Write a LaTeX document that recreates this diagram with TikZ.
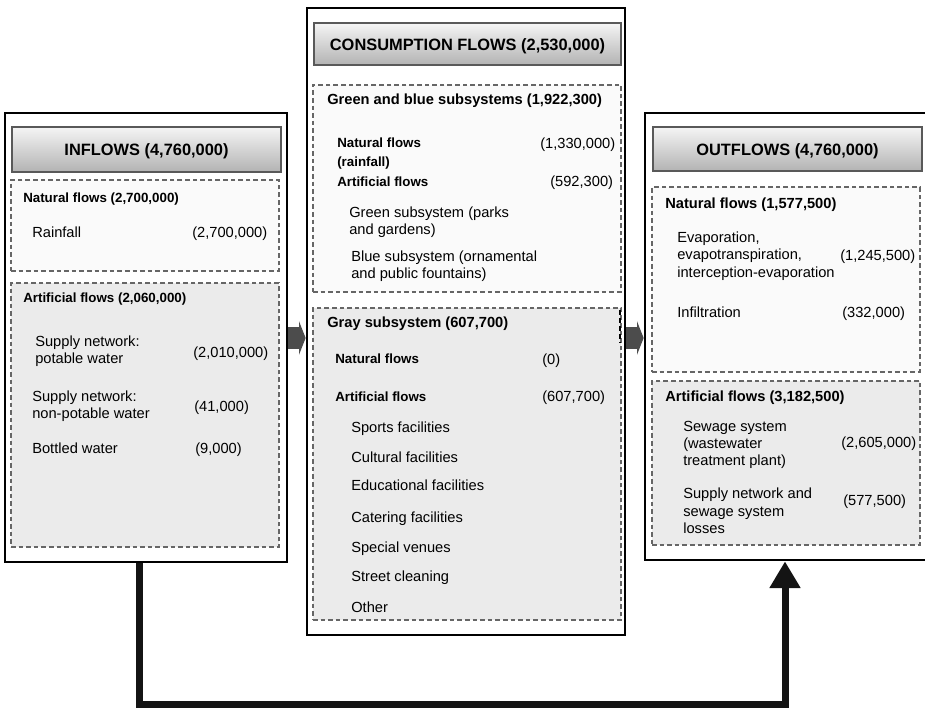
\documentclass[tikz,border=0pt]{standalone}
\usepackage{fontspec}
\setmainfont{Liberation Sans}
\usepackage{tikz}
\usetikzlibrary{arrows.meta, fit}
\tikzset{
    outerbox/.style={draw=black, line width=2pt, fill=white, inner sep=0pt},
    headbox/.style={draw=black!65, line width=1.2pt, top color=black!4, bottom color=black!30, inner sep=0pt},
    headtxt/.style={inner sep=0pt, text height=9pt, text depth=0pt, font=\fontsize{12.3}{14}\selectfont\bfseries},
    subbox/.style={draw=black!60, line width=1.1pt, dash pattern=on 3.5pt off 2.2pt, inner sep=0pt},
    natbox/.style={subbox, fill=black!2},
    artbox/.style={subbox, fill=black!8},
    txt/.style={anchor=west, inner sep=0pt, align=left, font=\fontsize{11}{13}\selectfont},
    boldtxt/.style={txt, font=\fontsize{11}{14.25}\selectfont\bfseries},
    entry/.style={txt, text height=8pt, text depth=1pt},
    sublbl/.style={entry, font=\fontsize{11}{13}\selectfont\bfseries},
    leftlbl/.style={entry, font=\fontsize{10}{12}\selectfont\bfseries},
    blockarrow/.style={line width=16pt, draw=black!70, -{Triangle[length=5pt, width=25pt]}},
    loopline/.style={line width=5.25pt, draw=black!92, -{Triangle[length=20pt, width=22pt]}}
}

\begin{document}
\begin{tikzpicture}[x=0.75pt, y=-0.75pt]
    \useasboundingbox (0,0) rectangle (925,711);
    \clip (0,0) rectangle (925,711);
    % the three blocks
    \node[outerbox, fit={(5,113) (287,562)}] (inbox) {};
    \node[outerbox, fit={(307,8) (625,635)}] (midbox) {};
    \node[outerbox, fit={(645,113) (935,560)}] (outbox) {};
    \node[natbox, fit={(11,180) (279,271)}] (innat) {};
    \node[artbox, fit={(11,283) (279,547)}] (inart) {};
    \node[natbox, fit={(313,85) (621,292)}] (midgb) {};
    \node[artbox, fit={(313,308) (621,620)}] (midgray) {};
    \node[natbox, fit={(652,187) (920,372)}] (outnat) {};
    \node[artbox, fit={(652,381) (920,545)}] (outart) {};
    \node[headbox, fit={(12,127) (281,172)}] (inhead) {};
    \node[headbox, fit={(314,23) (621,65)}] (midhead) {};
    \node[headbox, fit={(653,127) (922,171)}] (outhead) {};
    \node[headtxt] (intitle) at (inhead) {INFLOWS (4,760,000)};
    \node[headtxt] (midtitle) at (midhead) {CONSUMPTION FLOWS (2,530,000)};
    \node[headtxt] (outtitle) at (outhead) {OUTFLOWS (4,760,000)};
    \draw[black, line width=1.5pt, dash pattern=on 4pt off 2pt] (620,310) -- (620,343);

    % inflows
    \node[leftlbl] (innatlbl) at (23,198) {Natural flows (2,700,000)};
    \node[entry] (rain) at (32,233) {Rainfall};
    \node[entry] (rainval) at (192,233) {(2,700,000)};
    \node[leftlbl] (inartlbl) at (23,298) {Artificial flows (2,060,000)};
    \node[txt] (potable) at (35,351) {Supply network:\\potable water};
    \node[entry] (potableval) at (193,353) {(2,010,000)};
    \node[txt] (nonpot) at (32,406) {Supply network:\\non-potable water};
    \node[entry] (nonpotval) at (194,407) {(41,000)};
    \node[entry] (bottled) at (32,449) {Bottled water};
    \node[entry] (bottledval) at (195,449) {(9,000)};

    % consumption
    \node[sublbl] (gblbl) at (327,100) {Green and blue subsystems (1,922,300)};
    \node[boldtxt, font=\fontsize{10}{14.25}\selectfont\bfseries] (gbnat) at (337,153.5) {Natural flows\\(rainfall)};
    \node[entry] (gbnatval) at (540,144) {(1,330,000)};
    \node[leftlbl] (gbart) at (337,182) {Artificial flows};
    \node[entry] (gbartval) at (550,182) {(592,300)};
    \node[txt] (green) at (349,222) {Green subsystem (parks\\and gardens)};
    \node[txt] (blue) at (351,266) {Blue subsystem (ornamental\\and public fountains)};
    \node[sublbl] (graylbl) at (327,323) {Gray subsystem (607,700)};
    \node[leftlbl] (graynat) at (335,359) {Natural flows};
    \node[entry] (graynatval) at (542,360) {(0)};
    \node[leftlbl] (grayart) at (335,397) {Artificial flows};
    \node[entry] (grayartval) at (542,397) {(607,700)};
    \foreach \name/\y/\txt in {sports/428/Sports facilities, cultural/458/Cultural facilities,
        educational/486/Educational facilities, catering/518/Catering facilities,
        venues/548/Special venues, street/577/Street cleaning, other/608/Other}
        \node[entry] (\name) at (351,\y) {\txt};

    % outflows
    \node[sublbl] (outnatlbl) at (665,204) {Natural flows (1,577,500)};
    \node[txt] (evap) at (677,256) {Evaporation,\\evapotranspiration,\\interception-evaporation};
    \node[entry] (evapval) at (840,256) {(1,245,500)};
    \node[entry] (infil) at (677,313) {Infiltration};
    \node[entry] (infilval) at (842,313) {(332,000)};
    \node[sublbl] (outartlbl) at (665,397) {Artificial flows (3,182,500)};
    \node[txt] (sewage) at (683,445) {Sewage system\\(wastewater\\treatment plant)};
    \node[entry] (sewageval) at (841,443) {(2,605,000)};
    \node[txt] (losses) at (683,511) {Supply network and\\sewage system\\losses};
    \node[entry] (lossesval) at (843,501) {(577,500)};

    % flows between blocks
    \coordinate (flowa) at (0,338);
    \draw[blockarrow] (inbox.east |- flowa) -- (midbox.west |- flowa);
    \draw[blockarrow] (midbox.east |- flowa) -- (outbox.west |- flowa);
    \coordinate (loopl) at (139,704);
    \coordinate (loopr) at (785,704);
    \draw[loopline] (inbox.south -| loopl) -- (loopl) -- (loopr) -- (outbox.south -| loopr);
\end{tikzpicture}
\end{document}
